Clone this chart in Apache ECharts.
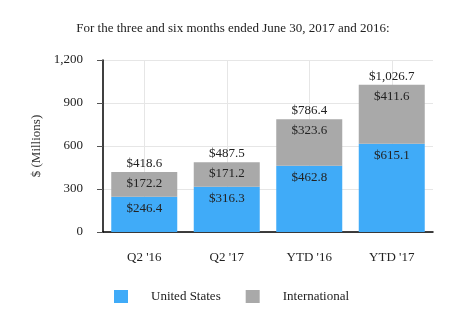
<!DOCTYPE html>
<html><head><meta charset="utf-8">
<script src="https://cdn.jsdelivr.net/npm/echarts@6/dist/echarts.min.js"></script>
<style>html,body{margin:0;padding:0;background:#fff}#c{width:466px;height:333px}</style>
</head><body><div id="c"></div>
<script>
var categories = ["Q2 '16", "Q2 '17", "YTD '16", "YTD '17"];
var unitedStates = [246.4, 316.3, 462.8, 615.1];
var international = [172.2, 171.2, 323.6, 411.6];
var totals = [418.6, 487.5, 786.4, 1026.7];
var yTicks = [0, 300, 600, 900, 1200];

var F = "'Liberation Serif','Times New Roman',serif";
function money(v){ return '$' + v.toLocaleString('en-US',{minimumFractionDigits:1,maximumFractionDigits:1}); }
var chart = echarts.init(document.getElementById('c'));
chart.setOption({
  animation:false,
  textStyle:{fontFamily:F},
  title:{text:'For the three and six months ended June 30, 2017 and 2016:', left:'center', top:17,
    textStyle:{fontFamily:F, fontSize:13, fontWeight:'normal', color:'#222'}},
  grid:{left:103, right:33, top:60, bottom:101},
  legend:{top:290, left:114, padding:0, itemWidth:14, itemHeight:13, itemGap:25, icon:'rect',
    data:['United States','International'],
    textStyle:{fontFamily:F, fontSize:13, color:'#222', padding:[0,0,0,18]}},
  xAxis:{type:'category', data:categories,
    axisLine:{lineStyle:{color:'#000', width:1.5}},
    axisTick:{alignWithLabel:true, length:5, lineStyle:{color:'#555'}},
    splitLine:{show:false},
    axisLabel:{fontFamily:F, fontSize:13, color:'#222', margin:19}},
  yAxis:{type:'value', min:yTicks[0], max:yTicks[yTicks.length-1], interval:300,
    name:'$ (Millions)', nameLocation:'middle', nameGap:60, nameRotate:90,
    nameTextStyle:{fontFamily:F, fontSize:13, color:'#333'},
    axisLine:{show:true, lineStyle:{color:'#000', width:1.5}},
    axisTick:{show:true, length:6, lineStyle:{color:'#555'}},
    splitLine:{lineStyle:{color:'#e6e6e6'}},
    axisLabel:{fontFamily:F, fontSize:13, color:'#222', margin:20,
      formatter:function(v){return v.toLocaleString('en-US');}}},
  series:[
    {name:'Total', type:'bar', data:totals, barWidth:'80%', barGap:'-100%', z:1,
      itemStyle:{color:'rgba(0,0,0,0)'}, silent:true,
      label:{show:true, position:'top', distance:2, fontFamily:F, fontSize:13, color:'#222', formatter:function(p){return money(p.value);}},
      markLine:{silent:true, symbol:'none', label:{show:false}, z:0,
        lineStyle:{color:'#e6e6e6', type:'solid', width:1},
        data:categories.map(function(c){return {xAxis:c};})}},
    {name:'United States', type:'bar', stack:'a', data:unitedStates, barWidth:'80%', z:2,
      itemStyle:{color:'#40abf8'},
      label:{show:true, position:'insideTop', distance:5, fontFamily:F, fontSize:13, color:'#222', formatter:function(p){return money(p.value);}}},
    {name:'International', type:'bar', stack:'a', data:international, barWidth:'80%', z:2,
      itemStyle:{color:'#a9a9a9'},
      label:{show:true, position:'insideTop', distance:5, fontFamily:F, fontSize:13, color:'#222', formatter:function(p){return money(p.value);}}}
  ]
});
</script></body></html>
